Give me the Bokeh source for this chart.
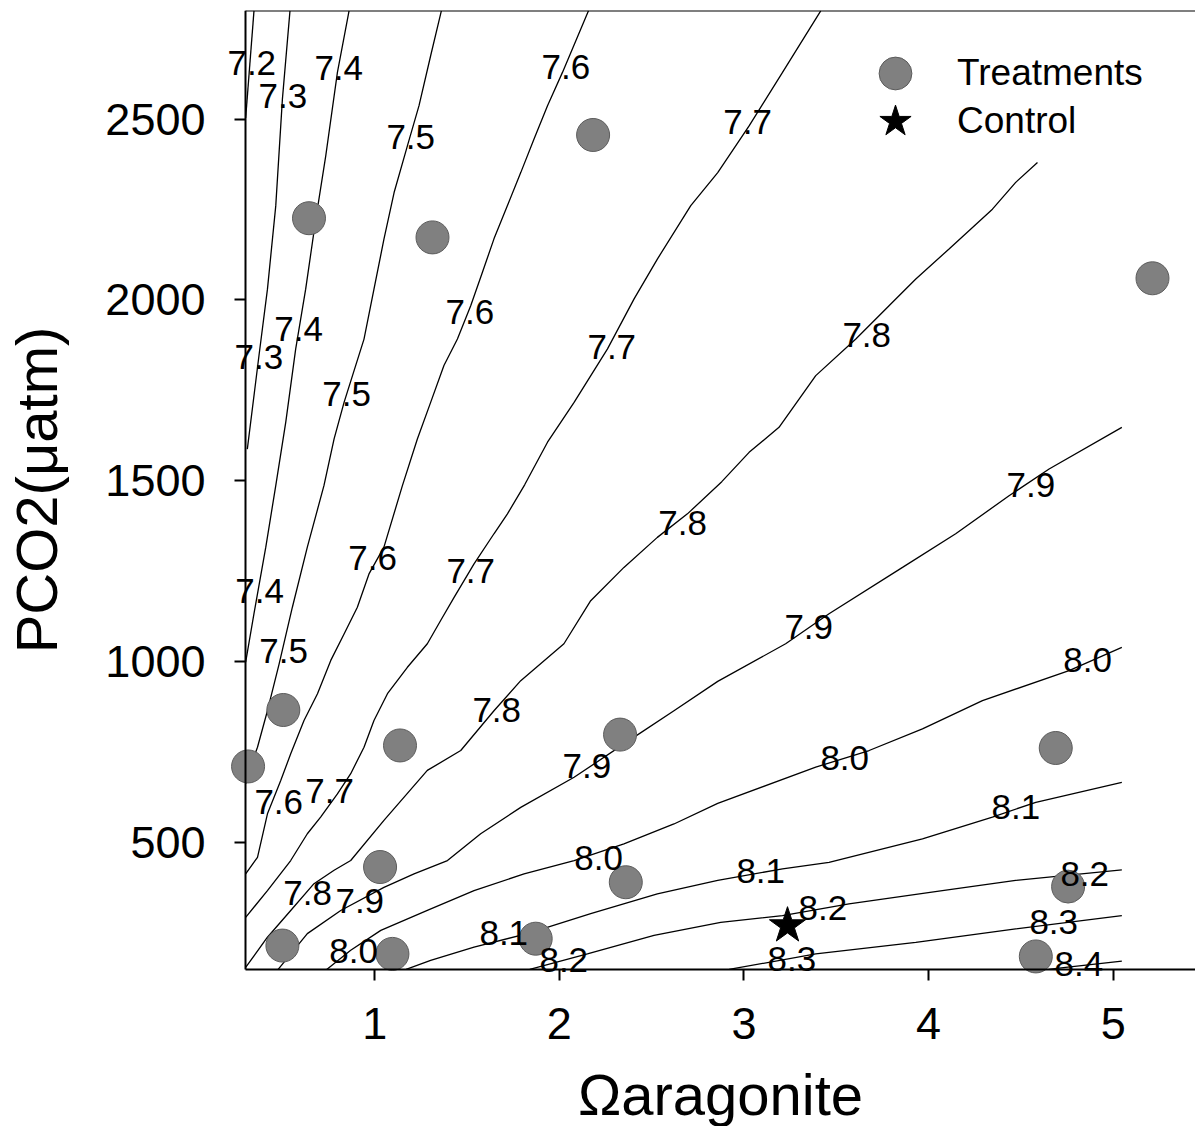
from bokeh.plotting import figure
from bokeh.models import (ColumnDataSource, Legend, LegendItem, FixedTicker,
                          Range1d, LabelSet, LinearAxis)
from bokeh.embed import file_html
from bokeh.resources import INLINE
from bokeh.core.properties import value

FONT = "Liberation Sans"

# ---- pH isolines (x = Omega aragonite, y = pCO2 in uatm) ----
ph72_omega = [0.346, 0.301]
ph72_pco2 = [2799, 2503]

ph73_omega = [0.541, 0.500, 0.464, 0.419, 0.373, 0.310]
ph73_pco2 = [2799, 2555, 2260, 2030, 1846, 1588]

ph74_omega = [0.861, 0.798, 0.735, 0.681, 0.626, 0.572, 0.518, 0.464, 0.410, 0.346, 0.301]
ph74_pco2 = [2799, 2629, 2399, 2224, 2030, 1865, 1662, 1487, 1317, 1133, 999]

ph75_omega = [1.361, 1.303, 1.240, 1.177, 1.105, 1.050, 0.996, 0.942, 0.834, 0.780,
              0.725, 0.635, 0.554, 0.482, 0.419, 0.365, 0.319, 0.301]
ph75_pco2 = [2799, 2675, 2537, 2426, 2297, 2168, 2030, 1892, 1717, 1616,
             1487, 1317, 1151, 994, 865, 764, 700, 663]

ph76_omega = [2.158, 2.017, 1.936, 1.863, 1.791, 1.719, 1.646, 1.583, 1.520, 1.448,
              1.375, 1.303, 1.231, 1.150, 1.050, 0.969, 0.906, 0.834, 0.762, 0.690,
              0.617, 0.545, 0.491, 0.419, 0.365, 0.301]
ph76_pco2 = [2799, 2629, 2537, 2445, 2352, 2261, 2169, 2076, 1984, 1892,
             1819, 1717, 1616, 1487, 1317, 1243, 1151, 1077, 1004, 912,
             838, 746, 672, 580, 460, 414]

ph77_omega = [3.416, 3.209, 3.028, 2.858, 2.712, 2.531, 2.405, 2.261, 2.080, 1.936,
              1.813, 1.719, 1.646, 1.538, 1.430, 1.358, 1.285, 1.177, 1.069, 0.996,
              0.942, 0.870, 0.798, 0.707, 0.635, 0.545, 0.419, 0.301]
ph77_pco2 = [2799, 2629, 2481, 2352, 2261, 2113, 2003, 1865, 1717, 1607,
             1490, 1409, 1354, 1271, 1178, 1115, 1050, 985, 912, 838,
             764, 691, 635, 571, 525, 451, 368, 294]

ph78_omega = [4.590, 4.472, 4.346, 4.111, 3.931, 3.786, 3.606, 3.389, 3.190, 3.028,
              2.880, 2.694, 2.531, 2.350, 2.170, 2.025, 1.791, 1.646, 1.466, 1.285,
              1.050, 0.870, 0.780, 0.671, 0.545, 0.419, 0.301]
ph78_pco2 = [2380, 2325, 2251, 2141, 2058, 1984, 1892, 1791, 1648, 1579,
             1498, 1409, 1344, 1261, 1169, 1050, 948, 865, 755, 700,
             562, 451, 424, 387, 313, 239, 156]

ph79_omega = [5.047, 4.653, 4.436, 4.147, 3.859, 3.461, 3.226, 2.858, 2.621, 2.405,
              2.080, 1.791, 1.574, 1.394, 1.213, 1.050, 0.816, 0.635, 0.477]
ph79_pco2 = [1648, 1533, 1459, 1354, 1261, 1133, 1050, 946, 865, 792,
             681, 598, 525, 451, 414, 377, 313, 249, 150]

ph80_omega = [5.047, 4.761, 4.292, 3.967, 3.678, 3.389, 2.858, 2.621, 2.350, 2.080,
              1.809, 1.538, 1.285, 1.033, 0.870, 0.740]
ph80_pco2 = [1040, 976, 893, 815, 755, 709, 609, 552, 497, 451,
             414, 368, 313, 258, 203, 150]

ph81_omega = [5.047, 4.581, 4.346, 3.967, 3.461, 3.209, 2.858, 2.531, 2.170, 1.827,
              1.538, 1.303, 1.170]
ph81_pco2 = [667, 612, 571, 511, 446, 428, 396, 359, 304, 249, 212, 175, 150]

ph82_omega = [5.047, 4.472, 4.075, 3.569, 3.209, 2.874, 2.513, 2.152, 1.840]
ph82_pco2 = [425, 396, 368, 331, 299, 280, 244, 193, 150]

ph83_omega = [5.047, 4.472, 3.931, 3.389, 2.920]
ph83_pco2 = [299, 262, 225, 193, 150]

ph84_omega = [5.047, 4.743, 4.650]
ph84_pco2 = [173, 156, 150]

contours = [
    (ph72_omega, ph72_pco2), (ph73_omega, ph73_pco2), (ph74_omega, ph74_pco2),
    (ph75_omega, ph75_pco2), (ph76_omega, ph76_pco2), (ph77_omega, ph77_pco2),
    (ph78_omega, ph78_pco2), (ph79_omega, ph79_pco2), (ph80_omega, ph80_pco2),
    (ph81_omega, ph81_pco2), (ph82_omega, ph82_pco2), (ph83_omega, ph83_pco2),
    (ph84_omega, ph84_pco2),
]

# ---- contour labels ----
label_text = ["7.2", "7.3", "7.4", "7.5", "7.6", "7.7",
              "7.3", "7.4", "7.5", "7.6", "7.7", "7.8",
              "7.4", "7.5", "7.6", "7.7", "7.8", "7.9",
              "7.6", "7.7", "7.8", "7.9", "8.0",
              "7.8", "7.9", "7.9", "8.0", "8.1",
              "8.0", "8.0", "8.1", "8.2",
              "8.1", "8.2", "8.3",
              "8.2", "8.3", "8.4"]
label_omega = [0.334, 0.502, 0.805, 1.195, 2.035, 3.020,
               0.372, 0.588, 0.848, 1.515, 2.284, 3.665,
               0.377, 0.507, 0.989, 1.520, 2.668, 4.554,
               0.480, 0.756, 1.661, 3.351, 4.862,
               0.637, 0.919, 2.149, 3.546, 4.473,
               0.886, 2.213, 3.091, 4.846,
               1.699, 3.427, 4.678,
               2.024, 3.260, 4.814]
label_pco2 = [2655, 2564, 2642, 2451, 2644, 2491,
              1843, 1921, 1741, 1968, 1871, 1904,
              1197, 1031, 1288, 1252, 1384, 1490,
              614, 642, 868, 1097, 1006,
              360, 338, 711, 733, 600,
              202, 459, 421, 415,
              250, 319, 280,
              175, 180, 166]

# ---- experimental points ----
treat_omega = [0.644, 1.313, 2.183, 5.213, 0.505, 0.314, 1.137, 2.329,
               1.029, 2.360, 0.500, 1.096, 1.872, 4.689, 4.756, 4.581]
treat_pco2 = [2226, 2173, 2456, 2060, 867, 711, 769, 799,
              433, 391, 216, 193, 235, 762, 379, 186]
control_omega = [3.236]
control_pco2 = [271]

x_ticks = [1, 2, 3, 4, 5]
y_ticks = [500, 1000, 1500, 2000, 2500]
x_min, x_max = 0.3, 5.446
y_min, y_max = 150, 2800

p = figure(width=1195, height=1126,
           x_range=Range1d(-1.027, x_max), y_range=Range1d(-284, y_max),
           output_backend="svg", toolbar_location=None,
           min_border_left=0, min_border_top=10, min_border_right=0,
           min_border_bottom=0)
p.outline_line_color = None
p.grid.visible = False
p.background_fill_color = "white"
p.border_fill_color = "white"

for ox, oy in contours:
    p.line(ox, oy, line_color="black", line_width=1.3)

label_src = ColumnDataSource(dict(x=label_omega, y=label_pco2, text=label_text))
labels = LabelSet(x="x", y="y", text="text", source=label_src,
                  text_font=value(FONT), text_font_size="35px", text_color="black",
                  text_align="center", text_baseline="middle")
p.add_layout(labels)

r_treat = p.scatter(treat_omega, treat_pco2, marker="circle", size=33,
                    fill_color="#808080", line_color="#5c5c5c", line_width=1)
r_ctrl = p.scatter(control_omega, control_pco2, marker="star", size=38,
                   fill_color="black", line_color="black")

xax = p.below[0]
yax = p.left[0]

# frame lines: axes fixed at the data limits
xax.fixed_location = y_min
xax.bounds = (x_min, x_max)
yax.fixed_location = x_min
yax.bounds = (y_min, y_max)

for ax in (xax, yax):
    ax.axis_line_width = 2
    ax.axis_line_color = "black"
    ax.major_tick_line_width = 2
    ax.major_tick_line_color = "black"
    ax.major_tick_out = 11
    ax.major_tick_in = 0
    ax.minor_tick_line_color = None
    ax.major_label_text_font = FONT
    ax.major_label_text_font_size = "45px"
    ax.major_label_text_color = "black"
    ax.axis_label_text_font = FONT
    ax.axis_label_text_font_style = "normal"
    ax.axis_label_text_color = "black"

xax.ticker = FixedTicker(ticks=x_ticks)
yax.ticker = FixedTicker(ticks=y_ticks)
xax.axis_label = "\u03a9aragonite"
xax.axis_label_text_font_size = "58px"
xax.major_label_standoff = 28
xax.axis_label_standoff = 19
yax.axis_label = "PCO2(\u03bcatm)"
yax.axis_label_text_font_size = "58px"
yax.major_label_standoff = 29
yax.axis_label_standoff = 33

top_axis = LinearAxis(fixed_location=y_max, bounds=(x_min, x_max),
                      ticker=FixedTicker(ticks=[]), axis_line_width=2,
                      axis_line_color="black", major_tick_line_color=None,
                      minor_tick_line_color=None, major_label_text_font_size="0px")
p.add_layout(top_axis, "above")

legend_style = dict(glyph_width=82, glyph_height=82, spacing=0, padding=0, margin=0,
                    label_standoff=21, label_text_font=FONT,
                    label_text_font_size="37px", label_text_color="black",
                    border_line_color=None, background_fill_alpha=0)
legend1 = Legend(items=[LegendItem(label="Treatments", renderers=[r_treat])],
                 location=(854, 1012), **legend_style)
legend2 = Legend(items=[LegendItem(label="Control", renderers=[r_ctrl])],
                 location=(854, 964), **legend_style)
p.add_layout(legend1)
p.add_layout(legend2)

open("out.html", "w").write(file_html(p, INLINE))
